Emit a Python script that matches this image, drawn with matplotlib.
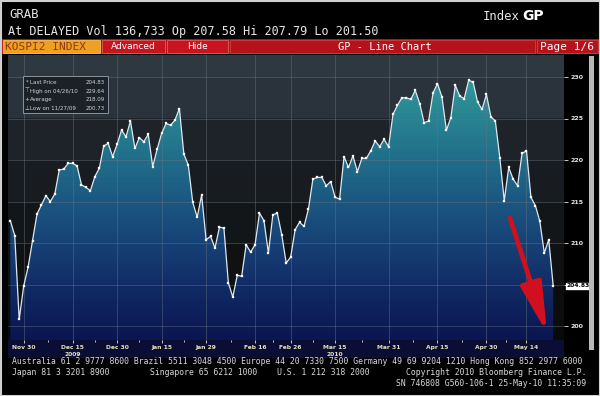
import numpy as np
import matplotlib
matplotlib.use('Agg')
import matplotlib.pyplot as plt
from matplotlib.colors import LinearSegmentedColormap, ListedColormap
from matplotlib.patches import Rectangle

# KOSPI2 index, daily closes 25-Nov-09 .. 25-May-10
prices = [212.7, 210.9, 200.8, 204.8, 207.1, 210.3, 213.5, 214.6, 215.7, 215.0,
          215.9, 218.8, 218.9, 219.6, 219.6, 219.3, 217.0, 216.7, 216.3, 218.0,
          219.0, 221.7, 222.0, 220.4, 221.9, 223.6, 222.8, 224.7, 221.4, 222.7,
          222.2, 223.1, 219.2, 221.3, 223.2, 224.4, 224.2, 224.8, 226.2, 220.7,
          219.4, 214.9, 213.1, 215.8, 210.4, 210.8, 209.4, 211.9, 211.8, 205.2,
          203.5, 206.1, 206.0, 209.8, 208.9, 209.8, 213.6, 212.7, 208.8, 213.4,
          213.6, 211.0, 207.6, 208.3, 211.6, 212.5, 212.0, 214.1, 217.7, 217.9,
          217.9, 216.9, 217.4, 215.5, 215.3, 220.4, 219.1, 220.5, 218.6, 220.2,
          220.2, 221.1, 222.3, 221.6, 222.5, 221.6, 225.5, 226.6, 227.5, 227.5,
          227.3, 228.4, 226.8, 224.5, 224.7, 228.1, 229.2, 227.6, 223.6, 225.1,
          229.0, 227.7, 227.4, 229.6, 229.4, 227.0, 226.1, 227.9, 225.2, 224.7,
          220.3, 215.1, 219.1, 217.7, 216.9, 220.8, 221.1, 215.5, 214.5, 212.6,
          208.8, 210.4, 204.83]

tick_idx = [3, 14, 24, 34, 44, 55, 63, 73, 85, 96, 107, 116]
tick_labels = ['Nov 30', 'Dec 15', 'Dec 30', 'Jan 15', 'Jan 29', 'Feb 16',
               'Feb 26', 'Mar 15', 'Mar 31', 'Apr 15', 'Apr 30', 'May 14']
year_idx = [14, 73]
year_labels = ['2009', '2010']
y_ticks = [200, 205, 210, 215, 220, 225, 230]

legend_rows = [('*', 'Last Price', '204.83'),
               ('\u22a4', 'High on 04/26/10', '229.64'),
               ('+', 'Average', '218.09'),
               ('\u22a5', 'Low on 11/27/09', '200.73')]

W, H = 600, 396
fig = plt.figure(figsize=(W / 100, H / 100), dpi=100, facecolor='black')

def fx(x):
    return x / W

def fy(y):
    return 1 - y / H

def px_rect(x0, y0, x1, y1, **kw):
    r = Rectangle((fx(x0), fy(y1)), fx(x1) - fx(x0), fy(y0) - fy(y1),
                  transform=fig.transFigure, **kw)
    fig.patches.append(r)
    return r

mono = 'DejaVu Sans Mono'

# ---- header
fig.text(fx(9), fy(14), 'GRAB', color='#e6e6e6', fontsize=8.8, family=mono, va='center')
fig.text(fx(483), fy(16), 'Index', color='#e6e6e6', fontsize=8.8, family=mono, va='center')
fig.text(fx(522), fy(16), 'GP', color='#ffffff', fontsize=10, family='DejaVu Sans',
         weight='bold', va='center')
fig.text(fx(8), fy(31), 'At DELAYED Vol 136,733 Op 207.58 Hi 207.79 Lo 201.50',
         color='#e6e6e6', fontsize=8.5, family=mono, va='center')

# ---- red button bar
px_rect(0, 39, 600, 54, facecolor='#b5121b', edgecolor='none')
px_rect(3, 40, 100, 53, facecolor='#f0a020', edgecolor='#f6c060', lw=0.6)
px_rect(102, 40, 165, 53, facecolor='#c8141e', edgecolor='#e06060', lw=0.6)
px_rect(167, 40, 228, 53, facecolor='#c8141e', edgecolor='#e06060', lw=0.6)
px_rect(230, 40, 535, 53, facecolor='#b5121b', edgecolor='#d04040', lw=0.6)
px_rect(537, 40, 598, 53, facecolor='#b5121b', edgecolor='#d04040', lw=0.6)
fig.text(fx(5), fy(46.5), 'KOSPI2 INDEX', color='#8a3a10', fontsize=8, family=mono, va='center')
fig.text(fx(133), fy(46.5), 'Advanced', color='white', fontsize=6.5, ha='center', va='center')
fig.text(fx(197), fy(46.5), 'Hide', color='white', fontsize=6.5, ha='center', va='center')
fig.text(fx(385), fy(46.5), 'GP - Line Chart', color='white', fontsize=7.5, family=mono,
         ha='center', va='center')
fig.text(fx(540), fy(46.5), 'Page 1/6', color='white', fontsize=8, family=mono, va='center')

# ---- chart
x = np.arange(len(prices))
x0_px, dx_px = 10.3, 4.45
y200_px, dy_px = 326, 8.3
p_left, p_top, p_right, p_bot = 8, 55, 564, 340
xlim = ((p_left - x0_px) / dx_px, (p_right - x0_px) / dx_px)
ylim = (200 - (p_bot - y200_px) / dy_px, 200 + (y200_px - p_top) / dy_px)

ax = fig.add_axes([fx(p_left), fy(p_bot), fx(p_right) - fx(p_left), fy(p_top) - fy(p_bot)])
ax.set_xlim(*xlim)
ax.set_ylim(*ylim)

# banded dark background
bands = [(198.3, '#08090a'), (200, '#0b0c0e'), (205, '#0f1113'), (210, '#131619'),
         (215, '#181c21'), (220, '#1d2329'), (225, '#2a333b'), (230, '#2e3840')]
rows = np.linspace(ylim[0], ylim[1], 400)
band_id = np.searchsorted([b[0] for b in bands], rows, side='right') - 1
bg_cmap = ListedColormap([b[1] for b in bands])
ax.imshow(band_id[::-1, None], cmap=bg_cmap, vmin=-0.5, vmax=len(bands) - 0.5,
          extent=[xlim[0], xlim[1], ylim[0], ylim[1]], aspect='auto', zorder=0,
          interpolation='nearest')

# teal -> navy gradient under the line
fill_cmap = LinearSegmentedColormap.from_list('fill', [
    (0.0, '#0a1650'), (0.06, '#0c1c58'), (0.2, '#112c66'), (0.36, '#174377'),
    (0.52, '#1c5a82'), (0.68, '#22718b'), (0.84, '#2a8893'), (1.0, '#33a0a6')])
grad = np.linspace(0, 1, 300)[::-1, None]
im = ax.imshow(grad, cmap=fill_cmap, extent=[xlim[0], xlim[1], ylim[0], 231.5],
               aspect='auto', zorder=1)
poly = ax.fill_between(x, prices, ylim[0], facecolor='none', edgecolor='none')
im.set_clip_path(poly.get_paths()[0], transform=ax.transData)
ax.set_ylim(*ylim)

ax.plot(x, prices, color='#dfe8ee', lw=0.9, marker='s', ms=2.0, mfc='white',
        mec='white', mew=0.2, zorder=4)

for v in y_ticks:
    ax.axhline(v, color='#6a7680', lw=0.5, alpha=0.6, zorder=2)
for t in tick_idx:
    ax.axvline(t, color='#6a7680', lw=0.5, alpha=0.6, zorder=2)

for s in ax.spines.values():
    s.set_visible(False)
ax.set_xticks(tick_idx)
ax.set_xticklabels(tick_labels)
ax.set_xticks([(a + b) / 2 for a, b in zip(tick_idx[:-1], tick_idx[1:])], minor=True)
ax.tick_params(axis='x', which='both', direction='out', colors='#e8e0c0', labelsize=4.3,
               pad=1.2, length=2.5, width=0.6)
ax.tick_params(axis='x', which='minor', length=1.5)
for lbl in ax.get_xticklabels():
    lbl.set_fontweight('bold')
ax.yaxis.tick_right()
ax.set_yticks(y_ticks)
# the 205 slot is taken by the last-price tag
ax.set_yticklabels(['' if v == 205 else str(v) for v in y_ticks])
ax.tick_params(axis='y', direction='out', colors='#e6e6e6', labelsize=4.5, pad=1.5,
               length=3, width=0.6)
for lbl in ax.get_yticklabels():
    lbl.set_fontweight('bold')

# navy strip behind date labels
px_rect(p_left, p_bot, p_right, 358, facecolor='#0a0e35', edgecolor='none', zorder=-1)
for t, lab in zip(year_idx, year_labels):
    ax.text(t, ylim[0] - 14.5 / dy_px, lab, color='#e8e0c0', fontsize=4.3,
            weight='bold', ha='center', va='center', clip_on=False)

# last price tag
ax.annotate('%.2f' % prices[-1], xy=(1, prices[-1]), xycoords=('axes fraction', 'data'),
            xytext=(2, 0), textcoords='offset points', fontsize=4.3, weight='bold',
            color='black', va='center', ha='left',
            bbox=dict(boxstyle='square,pad=0.15', fc='white', ec='white'))

# legend box
px_rect(23, 76, 108, 113, facecolor='#1a2127', edgecolor='#9aa2aa', lw=0.6, zorder=5)
for i, (sym, name, val) in enumerate(legend_rows):
    yy = 82.5 + i * 8.6
    fig.text(fx(27), fy(yy), sym, color='#d0d4d8', fontsize=4.0, va='center', ha='center', zorder=6)
    fig.text(fx(30), fy(yy), name, color='#d0d4d8', fontsize=4.0, va='center', zorder=6)
    fig.text(fx(105), fy(yy), val, color='#d0d4d8', fontsize=4.0, va='center', ha='right', zorder=6)

# red arrow
ax.annotate('', xy=(fx(547), fy(333)), xytext=(fx(510), fy(218)),
            xycoords='figure fraction', textcoords='figure fraction',
            arrowprops=dict(arrowstyle='-|>,head_length=3.0,head_width=0.65',
                            mutation_scale=10, lw=3.4, color='#d0101e',
                            shrinkA=0, shrinkB=0), zorder=7)

# scrollbar on the right
px_rect(589, 56, 594, 350, facecolor='#b8b8b8', edgecolor='none')

# ---- footer
foot = dict(color='#d8d8d8', fontsize=5.9, family=mono, va='center')
fig.text(fx(12), fy(362),
         'Australia 61 2 9777 8600 Brazil 5511 3048 4500 Europe 44 20 7330 7500 '
         'Germany 49 69 9204 1210 Hong Kong 852 2977 6000', **foot)
fig.text(fx(12), fy(372.5), 'Japan 81 3 3201 8900', **foot)
fig.text(fx(150), fy(372.5), 'Singapore 65 6212 1000', **foot)
fig.text(fx(277), fy(372.5), 'U.S. 1 212 318 2000', **foot)
fig.text(fx(586), fy(372.5), 'Copyright 2010 Bloomberg Finance L.P.', ha='right', **foot)
fig.text(fx(586), fy(383), 'SN 746808 G560-106-1 25-May-10 11:35:09', ha='right', **foot)

# outer frame
px_rect(0.5, 0.5, 599.5, 395.5, facecolor='none', edgecolor='#d0d0d0', lw=1.5)

fig.savefig('out.png', dpi=100, facecolor='black')
